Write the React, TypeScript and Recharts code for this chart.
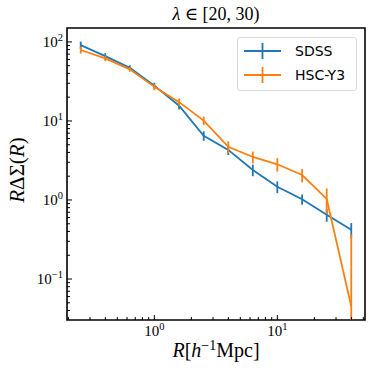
import React from "react";
import { LineChart, Line, XAxis, YAxis, ErrorBar, ReferenceArea } from "recharts";

// radial bin centres (h^-1 Mpc), 12 log bins between 0.2 and 50
const R_BINS = [0.252, 0.399, 0.632, 1.0, 1.59, 2.52, 3.99, 6.32, 10.0, 15.9, 25.2, 39.9];

const SDSS = [91, 66, 47, 28, 15.6, 6.5, 4.3, 2.4, 1.47, 1.02, 0.65, 0.42];
const SDSS_ERR = [10, 6, 3.5, 2.5, 1.6, 0.9, 0.6, 0.4, 0.25, 0.15, 0.12, 0.09];

const HSC = [79, 62, 45, 27, 17.3, 10.1, 4.7, 3.5, 2.83, 2.07, 1.03, 0.045];
const HSC_ERR = [8, 5, 3, 2.5, 1.8, 1.2, 0.8, 0.6, 0.55, 0.4, 0.37, 0.32];

const X_MAJOR = [1, 10];
const X_MINOR = [0.2, 0.3, 0.4, 0.5, 0.6, 0.7, 0.8, 0.9, 2, 3, 4, 5, 6, 7, 8, 9, 20, 30, 40, 50];
const Y_MAJOR = [0.1, 1, 10, 100];
const Y_MINOR = [
  0.04, 0.05, 0.06, 0.07, 0.08, 0.09,
  0.2, 0.3, 0.4, 0.5, 0.6, 0.7, 0.8, 0.9,
  2, 3, 4, 5, 6, 7, 8, 9,
  20, 30, 40, 50, 60, 70, 80, 90,
];

const X_MIN = 0.195;
const X_MAX = 51.6;
const Y_MIN = 0.0303;
const Y_MAX = 150;

const BLUE = "#1f77b4";
const ORANGE = "#ff7f0e";
const SERIF = '"Liberation Serif", "DejaVu Serif", serif';
const SANS = '"DejaVu Sans", sans-serif';

// errors that would go below zero are cut at the bottom of the axis
const errPair = (v: number, e: number) => [Math.min(e, v - Y_MIN), e];

const data = R_BINS.map((r, i) => ({
  r,
  sdss: SDSS[i],
  sdssErr: errPair(SDSS[i], SDSS_ERR[i]),
  hsc: HSC[i],
  hscErr: errPair(HSC[i], HSC_ERR[i]),
}));

const LEGEND = [
  { name: "SDSS", color: BLUE },
  { name: "HSC-Y3", color: ORANGE },
];

const expLabel = (v: number) => {
  const e = Math.round(Math.log10(v));
  return e < 0 ? `\u2212${-e}` : `${e}`;
};

function XTick(props: any) {
  const { x, y, payload } = props;
  const v = payload.value;
  const major = X_MAJOR.includes(v);
  return (
    <g>
      <line x1={x} x2={x} y1={y} y2={y - (major ? 5 : 3)} stroke="#000" strokeWidth={1} />
      {major && (
        <text x={x} y={y + 16} textAnchor="middle" fontFamily={SERIF} fontSize={15} fill="#000">
          10
          <tspan dy={-6} fontSize={10.5}>
            {expLabel(v)}
          </tspan>
        </text>
      )}
    </g>
  );
}

function YTick(props: any) {
  const { x, y, payload } = props;
  const v = payload.value;
  const major = Y_MAJOR.some((m) => Math.abs(m - v) < 1e-9);
  return (
    <g>
      <line x1={x} x2={x + (major ? 5 : 3)} y1={y} y2={y} stroke="#000" strokeWidth={1} />
      {major && (
        <text x={x - 4} y={y + 5} textAnchor="end" fontFamily={SERIF} fontSize={15} fill="#000">
          10
          <tspan dy={-6} fontSize={10.5}>
            {expLabel(v)}
          </tspan>
        </text>
      )}
    </g>
  );
}

const xLabel = (props: any) => {
  const { viewBox } = props;
  const cx = viewBox.x + viewBox.width / 2;
  return (
    <text x={cx} y={viewBox.y + 37} textAnchor="middle" fontFamily={SERIF} fontSize={20} fill="#000">
      <tspan fontStyle="italic">R</tspan>[<tspan fontStyle="italic">h</tspan>
      <tspan dy={-7} fontSize={14}>
        {"\u22121"}
      </tspan>
      <tspan dy={7}>Mpc]</tspan>
    </text>
  );
};

const yLabel = (props: any) => {
  const { viewBox } = props;
  const cy = viewBox.y + viewBox.height / 2 - 4;
  return (
    <text
      x={24}
      y={cy}
      transform={`rotate(-90, 24, ${cy})`}
      textAnchor="middle"
      fontFamily={SERIF}
      fontSize={21}
      fill="#000"
    >
      <tspan fontStyle="italic">R</tspan>ΔΣ(<tspan fontStyle="italic">R</tspan>)
    </text>
  );
};

const title = (props: any) => {
  const { viewBox } = props;
  const cx = viewBox.x + viewBox.width / 2;
  return (
    <text x={cx} y={viewBox.y - 8} textAnchor="middle" fontFamily={SERIF} fontSize={18} fill="#000">
      <tspan fontStyle="italic">λ</tspan> ∈ [20, 30)
    </text>
  );
};

function LegendBox() {
  return (
    <div
      style={{
        position: "absolute",
        left: 237,
        top: 37,
        width: 120,
        height: 54,
        boxSizing: "border-box",
        border: "1px solid #d9d9d9",
        borderRadius: 3,
        background: "rgba(255,255,255,0.8)",
        fontFamily: SANS,
        fontSize: 14,
        paddingTop: 1,
      }}
    >
      {LEGEND.map((s) => (
        <div key={s.name} style={{ display: "flex", alignItems: "center", height: 24 }}>
          <svg width={52} height={20} style={{ marginLeft: 5 }}>
            <line x1={1} x2={38} y1={10} y2={10} stroke={s.color} strokeWidth={1.8} />
            <line x1={19.5} x2={19.5} y1={2} y2={18} stroke={s.color} strokeWidth={1.8} />
          </svg>
          <span>{s.name}</span>
        </div>
      ))}
    </div>
  );
}

export default function App() {
  return (
    <div style={{ position: "absolute", left: 0, top: 0, width: 373, height: 372, background: "#fff" }}>
      <LineChart width={373} height={372} data={data} margin={{ top: 28, right: 8, bottom: 0, left: 0 }}>
        <XAxis
          dataKey="r"
          type="number"
          scale="log"
          domain={[X_MIN, X_MAX]}
          allowDataOverflow
          ticks={[...X_MAJOR, ...X_MINOR]}
          interval={0}
          tick={XTick}
          tickLine={false}
          tickSize={0}
          tickMargin={0}
          height={52}
          axisLine={false}
          label={xLabel}
        />
        <YAxis
          type="number"
          scale="log"
          domain={[Y_MIN, Y_MAX]}
          allowDataOverflow
          ticks={[...Y_MAJOR, ...Y_MINOR]}
          interval={0}
          tick={YTick}
          tickLine={false}
          tickSize={0}
          tickMargin={0}
          width={67}
          axisLine={false}
          label={yLabel}
        />
        <Line
          dataKey="sdss"
          name="SDSS"
          type="linear"
          stroke={BLUE}
          strokeWidth={1.8}
          dot={false}
          isAnimationActive={false}
        >
          <ErrorBar dataKey="sdssErr" direction="y" width={0} stroke={BLUE} strokeWidth={1.8} />
        </Line>
        <Line
          dataKey="hsc"
          name="HSC-Y3"
          type="linear"
          stroke={ORANGE}
          strokeWidth={1.8}
          dot={false}
          isAnimationActive={false}
        >
          <ErrorBar dataKey="hscErr" direction="y" width={0} stroke={ORANGE} strokeWidth={1.8} />
        </Line>
        <ReferenceArea
          x1={X_MIN}
          x2={X_MAX}
          y1={Y_MIN}
          y2={Y_MAX}
          ifOverflow="visible"
          fill="none"
          fillOpacity={0}
          stroke="#000"
          strokeWidth={1.6}
          strokeOpacity={1}
          label={title}
        />
      </LineChart>
      <LegendBox />
    </div>
  );
}
